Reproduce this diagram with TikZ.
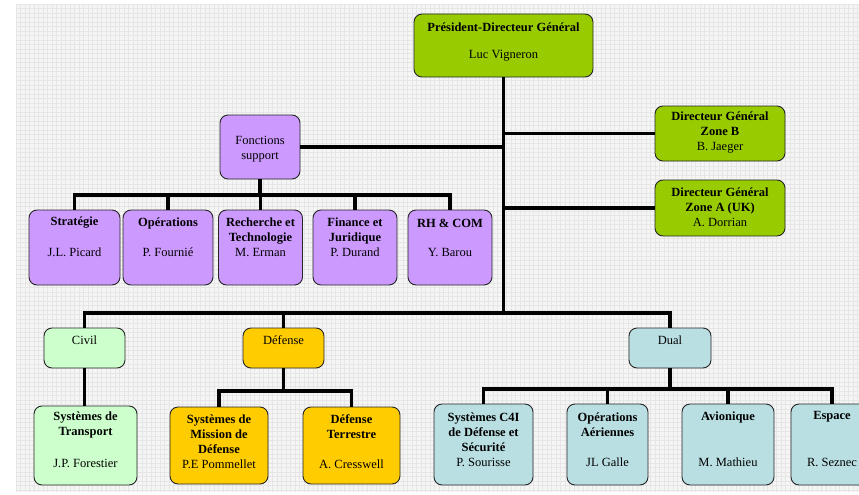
\documentclass[tikz,border=0pt]{standalone}
\usepackage{fontspec}
\setmainfont{Liberation Serif}
\definecolor{pdggreen}{HTML}{99CC00}
\definecolor{suppurple}{HTML}{CC99FF}
\definecolor{civgreen}{HTML}{CCFFCC}
\definecolor{defyellow}{HTML}{FFCC00}
\definecolor{dualblue}{HTML}{B9DFE3}
\definecolor{gridbg}{HTML}{F5F5F5}
\definecolor{gridln}{HTML}{E6E6E6}
\begin{document}
\begin{tikzpicture}[x=1pt,y=-1pt,
  box/.style={draw=black!85, line width=0.9pt, rounded corners=8pt, inner sep=0pt},
  txt/.style={font=\fontsize{12.5}{15}\selectfont, align=center, inner sep=0pt},
  btxt/.style={txt, font=\fontsize{12.5}{15}\selectfont\bfseries},
  link/.style={line width=3.3pt, line join=miter}
]
\clip (0,0) rectangle (859,495);
\fill[white] (0,0) rectangle (859,495);
\fill[gridbg] (16,4) rectangle (859,492);
\foreach \gx in {16,20.5,...,859} \draw[gridln, line width=0.8pt] (\gx,4) -- (\gx,492);
\foreach \gy in {4,8.5,...,492} \draw[gridln, line width=0.8pt] (16,\gy) -- (859,\gy);

% boxes
\node[box, fill=pdggreen, minimum width=179pt, minimum height=63pt] (pdg) at (503.5,45.5) {};
\node[box, fill=pdggreen, minimum width=130pt, minimum height=55pt] (zoneB) at (720,133.5) {};
\node[box, fill=pdggreen, minimum width=130pt, minimum height=56pt] (zoneA) at (720,208) {};
\node[box, fill=suppurple, minimum width=80pt, minimum height=64pt] (fs) at (260,147) {};
\node[box, fill=suppurple, minimum width=91pt, minimum height=75pt] (strat) at (74.5,247.5) {};
\node[box, fill=suppurple, minimum width=90pt, minimum height=75pt] (ops) at (168,247.5) {};
\node[box, fill=suppurple, minimum width=84pt, minimum height=75pt] (rt) at (260.5,247.5) {};
\node[box, fill=suppurple, minimum width=84pt, minimum height=75pt] (fin) at (355,247.5) {};
\node[box, fill=suppurple, minimum width=84pt, minimum height=75pt] (rh) at (450,247.5) {};
\node[box, fill=civgreen, minimum width=81pt, minimum height=40pt] (civil) at (84.5,348) {};
\node[box, fill=defyellow, minimum width=81pt, minimum height=40pt] (def) at (283.5,348) {};
\node[box, fill=dualblue, minimum width=82pt, minimum height=40pt] (dual) at (670,348) {};
\node[box, fill=civgreen, minimum width=103pt, minimum height=79pt] (st) at (85.5,445.5) {};
\node[box, fill=defyellow, minimum width=98pt, minimum height=77pt] (smd) at (219,445.5) {};
\node[box, fill=defyellow, minimum width=97pt, minimum height=77pt] (dt) at (351.5,445.5) {};
\node[box, fill=dualblue, minimum width=99pt, minimum height=81pt] (c4i) at (483.5,444.5) {};
\node[box, fill=dualblue, minimum width=81pt, minimum height=81pt] (oa) at (607.5,444.5) {};
\node[box, fill=dualblue, minimum width=92pt, minimum height=81pt] (av) at (728,444.5) {};
\node[box, fill=dualblue, minimum width=82pt, minimum height=81pt] (esp) at (832,444.5) {};

% bus coordinates
\coordinate (bus) at (503.5,313);
\coordinate (fsbus) at (260,195);
\coordinate (defbus) at (283.5,391);
\coordinate (dualbus) at (670,389);

% connectors
\draw[link] (pdg.south) -- (bus);
\draw[link] (civil.north) -- (civil.north |- bus) -- (dual.north |- bus) -- (dual.north);
\draw[link] (def.north) -- (def.north |- bus);
\draw[link] (zoneB.west) -- (zoneB.west -| bus);
\draw[link] (zoneA.west) -- (zoneA.west -| bus);
\draw[link] (fs.east) -- (fs.east -| bus);
\draw[link] (fs.south) -- (fsbus);
\draw[link] (strat.north) |- (fsbus) -| (rh.north);
\foreach \n in {ops,rt,fin} \draw[link] (\n.north) -- (\n.north |- fsbus);
\draw[link] (civil.south) -- (civil.south |- st.north);
\draw[link] (def.south) -- (defbus);
\draw[link] (smd.north) |- (defbus) -| (dt.north);
\draw[link] (dual.south) -- (dualbus);
\draw[link] (c4i.north) |- (dualbus) -| (esp.north);
\foreach \n in {oa,av} \draw[link] (\n.north) -- (\n.north |- dualbus);

% texts
\node[btxt] (pdgT) at (503.5,27) {Président-Directeur Général};
\node[txt] (pdgN) at (503.5,56) {Luc Vigneron};
\node[txt] (zoneBT) at (720,133) {\textbf{Directeur Général}\\\textbf{Zone B}\\B. Jaeger};
\node[txt] (zoneAT) at (720,207.5) {\textbf{Directeur Général}\\\textbf{Zone A (UK)}\\A. Dorrian};
\node[txt] (fsT) at (260,149.5) {Fonctions\\support};
\node[btxt] (stratT) at (74.5,223) {Stratégie};
\node[txt] (stratN) at (74.5,252) {J.L. Picard};
\node[btxt] (opsT) at (168,223) {Opérations};
\node[txt] (opsN) at (168,252) {P. Fournié};
\node[txt] (rtT) at (260.5,237) {\textbf{Recherche et}\\\textbf{Technologie}\\M. Erman};
\node[txt] (finT) at (355,237) {\textbf{Finance et}\\\textbf{Juridique}\\P. Durand};
\node[btxt] (rhT) at (450,223) {RH \& COM};
\node[txt] (rhN) at (450,252) {Y. Barou};
\node[txt] (civilT) at (84.5,340) {Civil};
\node[txt] (defT) at (283.5,340) {Défense};
\node[txt] (dualT) at (670,340) {Dual};
\node[btxt] (stT) at (85.5,425) {Systèmes de\\Transport};
\node[txt] (stN) at (85.5,463) {J.P. Forestier};
\node[txt] (smdT) at (219,442) {\textbf{Systèmes de}\\\textbf{Mission de}\\\textbf{Défense}\\P.E Pommellet};
\node[btxt] (dtT) at (351.5,427) {Défense\\Terrestre};
\node[txt] (dtN) at (351.5,464) {A. Cresswell};
\node[txt] (c4iT) at (483.5,439.5) {\textbf{Systèmes C4I}\\\textbf{de Défense et}\\\textbf{Sécurité}\\P. Sourisse};
\node[btxt] (oaT) at (607.5,425) {Opérations\\Aériennes};
\node[txt] (oaN) at (607.5,462) {JL Galle};
\node[btxt] (avT) at (728,417) {Avionique};
\node[txt] (avN) at (728,462) {M. Mathieu};
\node[btxt] (espT) at (832,417) {Espace};
\node[txt] (espN) at (832,462) {R. Seznec};
\end{tikzpicture}
\end{document}
